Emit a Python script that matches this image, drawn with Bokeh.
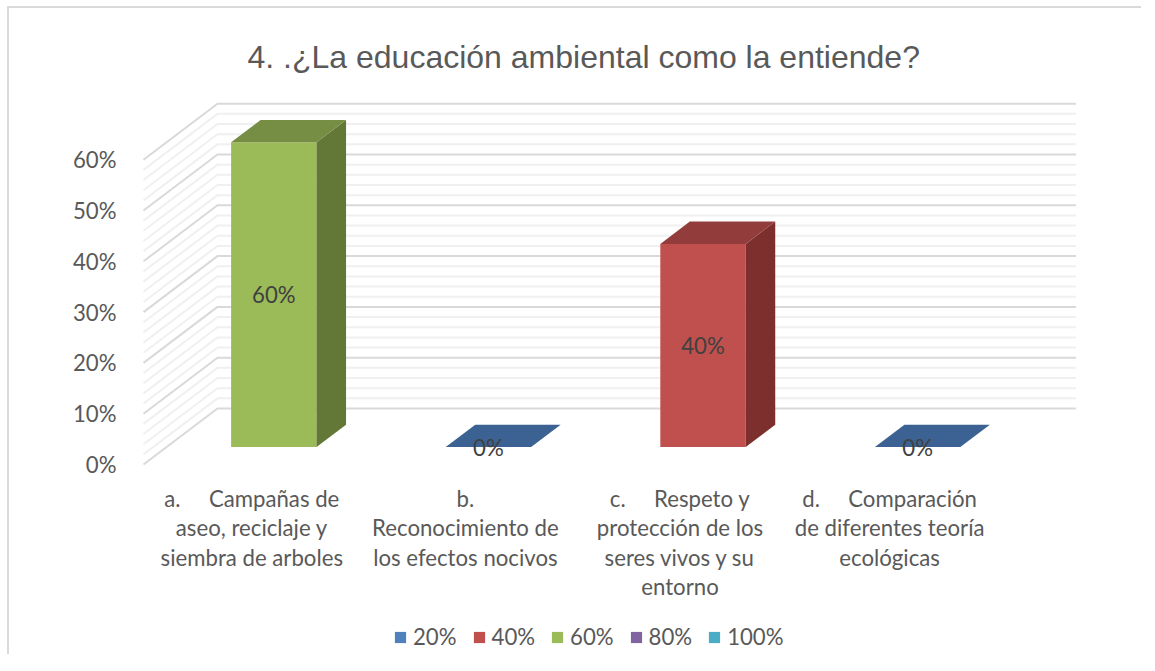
from bokeh.embed import file_html
from bokeh.resources import INLINE
from bokeh.plotting import figure
from bokeh.models import FixedTicker, PrintfTickFormatter, Legend, LegendItem, ColumnDataSource, Range1d
from bokeh.core.properties import value

title_text = "4. .¿La educación ambiental como la entiende?"
categories = [
    "a.\u00a0\u00a0\u00a0\u00a0\u00a0Campañas de\naseo, reciclaje y\nsiembra de arboles",
    "b.\nReconocimiento de\nlos efectos nocivos",
    "c.\u00a0\u00a0\u00a0\u00a0\u00a0Respeto y\nprotección de los\nseres vivos y su\nentorno",
    "d.\u00a0\u00a0\u00a0\u00a0\u00a0Comparación\nde diferentes teoría\necológicas",
]
values = [60, 0, 40, 0]
labels = ["60%", "0%", "40%", "0%"]
front_colors = ["#9BBB59", "#4F81BD", "#C0504D", "#4F81BD"]
top_colors = ["#768D44", "#3B6292", "#923D3B", "#3B6292"]
side_colors = ["#637736", "#345780", "#7D2F2D", "#345780"]
label_nudge = [1, 0, 0, -5]
legend_names = ["20%", "40%", "60%", "80%", "100%"]
legend_colors = ["#4F81BD", "#C0504D", "#9BBB59", "#8064A2", "#4BACC6"]
major_ticks = [0, 10, 20, 30, 40, 50, 60]
minor_ticks = [v for v in range(0, 61, 2) if v % 10]

# projection of the 3D box (category units / percent units)
PX_CAT = 214.6
PX_PCT = 5.08
DEPTH_X = 74 / PX_CAT
DEPTH_Y = 56 / PX_PCT
BAR_W = 0.398
D0, D1 = 0.311, 0.71
FONT = "Lato"
TEXT = "#595959"
FS = "22.2px"
F_L, F_R, F_T, F_B = 130, 1140, 80, 653
X0_PX, Y0_PX = 143, 464

p = figure(frame_width=F_R - F_L, frame_height=F_B - F_T, output_backend="svg", toolbar_location=None,
           x_axis_location=None, tools="",
           x_range=Range1d((F_L - X0_PX) / PX_CAT, (F_R - X0_PX) / PX_CAT),
           y_range=Range1d((Y0_PX - F_B) / PX_PCT, (Y0_PX - F_T) / PX_PCT),
           min_border_left=F_L - 9, min_border_right=1, min_border_top=F_T - 8, min_border_bottom=1)
p.margin = (6, 0, 0, 7)
p.styles = {"border-left": "2px solid #d9d9d9", "border-top": "2px solid #d9d9d9"}
p.outline_line_color = None
p.grid.visible = False

p.title.text = title_text
p.title.align = "left"
p.title.offset = 117
p.title.text_font = "Liberation Sans"
p.title.text_font_style = "normal"
p.title.text_font_size = "32px"
p.title.text_color = TEXT
p.title.standoff = 12

ax = p.yaxis[0]
ax.ticker = FixedTicker(ticks=major_ticks)
ax.formatter = PrintfTickFormatter(format="%d%%")
ax.axis_line_color = None
ax.major_tick_line_color = None
ax.minor_tick_line_color = None
ax.major_label_standoff = 8
ax.major_label_text_font = FONT
ax.major_label_text_font_size = FS
ax.major_label_text_color = TEXT

for ticks, col in ((minor_ticks, "#f0f0f0"), (major_ticks, "#d9d9d9")):
    xs, ys = [], []
    for v in ticks:
        xs.append([0, DEPTH_X, 4 + DEPTH_X])
        ys.append([v, v + DEPTH_Y, v + DEPTH_Y])
    p.multi_line(xs, ys, line_color=col, line_width=2)

for i, v in enumerate(values):
    xl = i + 0.5 - BAR_W / 2 + D0 * DEPTH_X
    xr = xl + BAR_W
    yb = D0 * DEPTH_Y
    dx = (D1 - D0) * DEPTH_X
    dy = (D1 - D0) * DEPTH_Y
    if v:
        p.quad(left=[xl], right=[xr], bottom=[yb], top=[yb + v], fill_color=front_colors[i], line_color=None)
        p.patch([xr, xr + dx, xr + dx, xr], [yb, yb + dy, yb + dy + v, yb + v],
                fill_color=side_colors[i], line_color=None)
    p.patch([xl, xr, xr + dx, xl + dx], [yb + v, yb + v, yb + v + dy, yb + v + dy],
            fill_color=top_colors[i], line_color=None)

bar_src = ColumnDataSource(dict(
    x=[i + 0.5 + D0 * DEPTH_X for i in range(4)],
    y=[D0 * DEPTH_Y + v / 2 for v in values],
    t=labels))
p.text("x", "y", text="t", source=bar_src, text_align="center", text_baseline="middle",
       text_font=value(FONT), text_font_size=FS, text_color="#404040")

cat_src = ColumnDataSource(dict(
    x=[i + 0.5 for i in range(4)],
    y=[-4.0] * 4,
    t=categories,
    n=label_nudge))
p.text("x", "y", text="t", x_offset="n", source=cat_src, text_align="center", text_baseline="top",
       text_font=value(FONT), text_font_size=FS, text_color=TEXT, text_line_height=1.09)

items = []
nan = float("nan")
for name, col in zip(legend_names, legend_colors):
    r = p.quad(left=[nan], right=[nan], bottom=[nan], top=[nan], fill_color=col, line_color=None)
    items.append(LegendItem(label=name, renderers=[r]))
legend = Legend(items=items, orientation="horizontal", location=(263, 3),
                glyph_width=14, glyph_height=14, label_standoff=6, spacing=15,
                padding=0, margin=0, border_line_color=None, background_fill_alpha=0,
                label_text_font=FONT, label_text_font_size=FS, label_text_color=TEXT,
                label_height=20)
p.add_layout(legend, "center")

open("out.html", "w").write(file_html(p, INLINE))
